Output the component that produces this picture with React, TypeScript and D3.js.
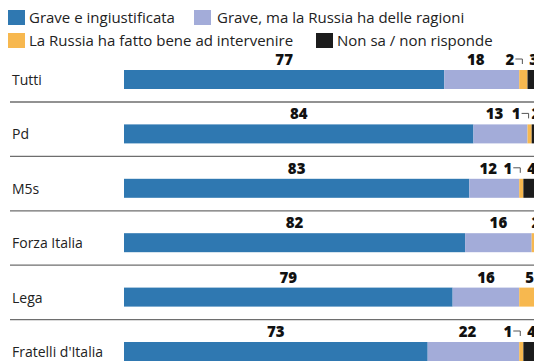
import React from 'react';
import * as d3 from 'd3';

const categories = ['Tutti', 'Pd', 'M5s', 'Forza Italia', 'Lega', "Fratelli d'Italia"];
const seriesNames = [
  'Grave e ingiustificata',
  'Grave, ma la Russia ha delle ragioni',
  'La Russia ha fatto bene ad intervenire',
  'Non sa / non risponde',
];
const grave = [77, 84, 83, 82, 79, 73];
const graveMa = [18, 13, 12, 16, 16, 22];
const beneIntervenire = [2, 1, 1, 2, 5, 1];
const nonSa = [3, 2, 4, 0, 0, 4];
const colors = ['#2f78b1', '#a3acd9', '#f7b84f', '#1c1c1c'];

const W = 534;
const H = 362;
const FONT = "'Open Sans', 'Noto Sans', sans-serif";

export default function App() {
  const series = [grave, graveMa, beneIntervenire, nonSa];
  const rows = categories.map((c, i) => ({ cat: c, vals: series.map((s) => s[i]) }));

  const x = d3.scaleLinear().domain([0, 100]).range([124, 540]);
  const y = d3
    .scaleBand<string>()
    .domain(categories)
    .range([56, 56 + 54.4 * categories.length])
    .paddingInner(0)
    .paddingOuter(0);
  const barH = 19;
  const barOffset = 14; // bar top within band

  const legendItems = [
    { i: 0, sx: 8, tx: 29, ty: 23 },
    { i: 1, sx: 194, tx: 217, ty: 23 },
    { i: 2, sx: 8, tx: 29, ty: 46 },
    { i: 3, sx: 316, tx: 337, ty: 46 },
  ];

  return (
    <svg
      width={W}
      height={H}
      style={{ position: 'absolute', left: 0, top: 0, background: '#fff' }}
      fontFamily={FONT}
    >
      <rect x={0} y={0} width={W} height={H} fill="#fff" />
      {legendItems.map((l) => (
        <g key={l.i}>
          <rect x={l.sx} y={l.ty - 13} width={17} height={15} fill={colors[l.i]} />
          <text x={l.tx} y={l.ty} fontSize={15} fill="#222">
            {seriesNames[l.i]}
          </text>
        </g>
      ))}
      {rows.map((r, ri) => {
        const top = (y(r.cat) as number) + barOffset;
        let acc = 0;
        const segs = r.vals.map((v, si) => {
          const s = { v, si, x0: acc, x1: acc + v };
          acc += v;
          return s;
        });
        return (
          <g key={r.cat}>
            <text x={12} y={top + barH / 2 + 5.5} fontSize={14} fill="#222">
              {r.cat}
            </text>
            {segs.map((s) =>
              s.v > 0 ? (
                <rect
                  key={s.si}
                  x={x(s.x0)}
                  y={top}
                  width={x(s.x1) - x(s.x0)}
                  height={barH}
                  fill={colors[s.si]}
                />
              ) : null
            )}
            {segs.map((s, k) => {
              if (s.v <= 0) return null;
              const cx = x((s.x0 + s.x1) / 2);
              const hasNext = segs.slice(k + 1).some((n) => n.v > 0);
              const small = s.v <= 2 && hasNext;
              const nextSmall =
                segs[k + 1] &&
                segs[k + 1].v > 0 &&
                segs[k + 1].v <= 2 &&
                segs.slice(k + 2).some((n) => n.v > 0);
              if (small) {
                return (
                  <g key={'l' + s.si}>
                    <text x={cx - 9} y={top - 5} fontSize={15} fontWeight={800} textAnchor="end" fill="#111">
                      {s.v}
                    </text>
                    <path
                      d={`M${cx - 8},${top - 11}H${cx - 1}V${top - 6}`}
                      fill="none"
                      stroke="#555"
                      strokeWidth={1}
                    />
                  </g>
                );
              }
              return (
                <text
                  key={'l' + s.si}
                  x={cx - (nextSmall ? 6 : 0)}
                  y={top - 5}
                  fontSize={15}
                  fontWeight={800}
                  textAnchor="middle"
                  fill="#111"
                >
                  {s.v}
                </text>
              );
            })}
            {ri < rows.length - 1 ? (
              <line
                x1={10}
                x2={W}
                y1={top + barH + 13}
                y2={top + barH + 13}
                stroke="#6e6e6e"
                strokeWidth={1.3}
              />
            ) : null}
          </g>
        );
      })}
    </svg>
  );
}
